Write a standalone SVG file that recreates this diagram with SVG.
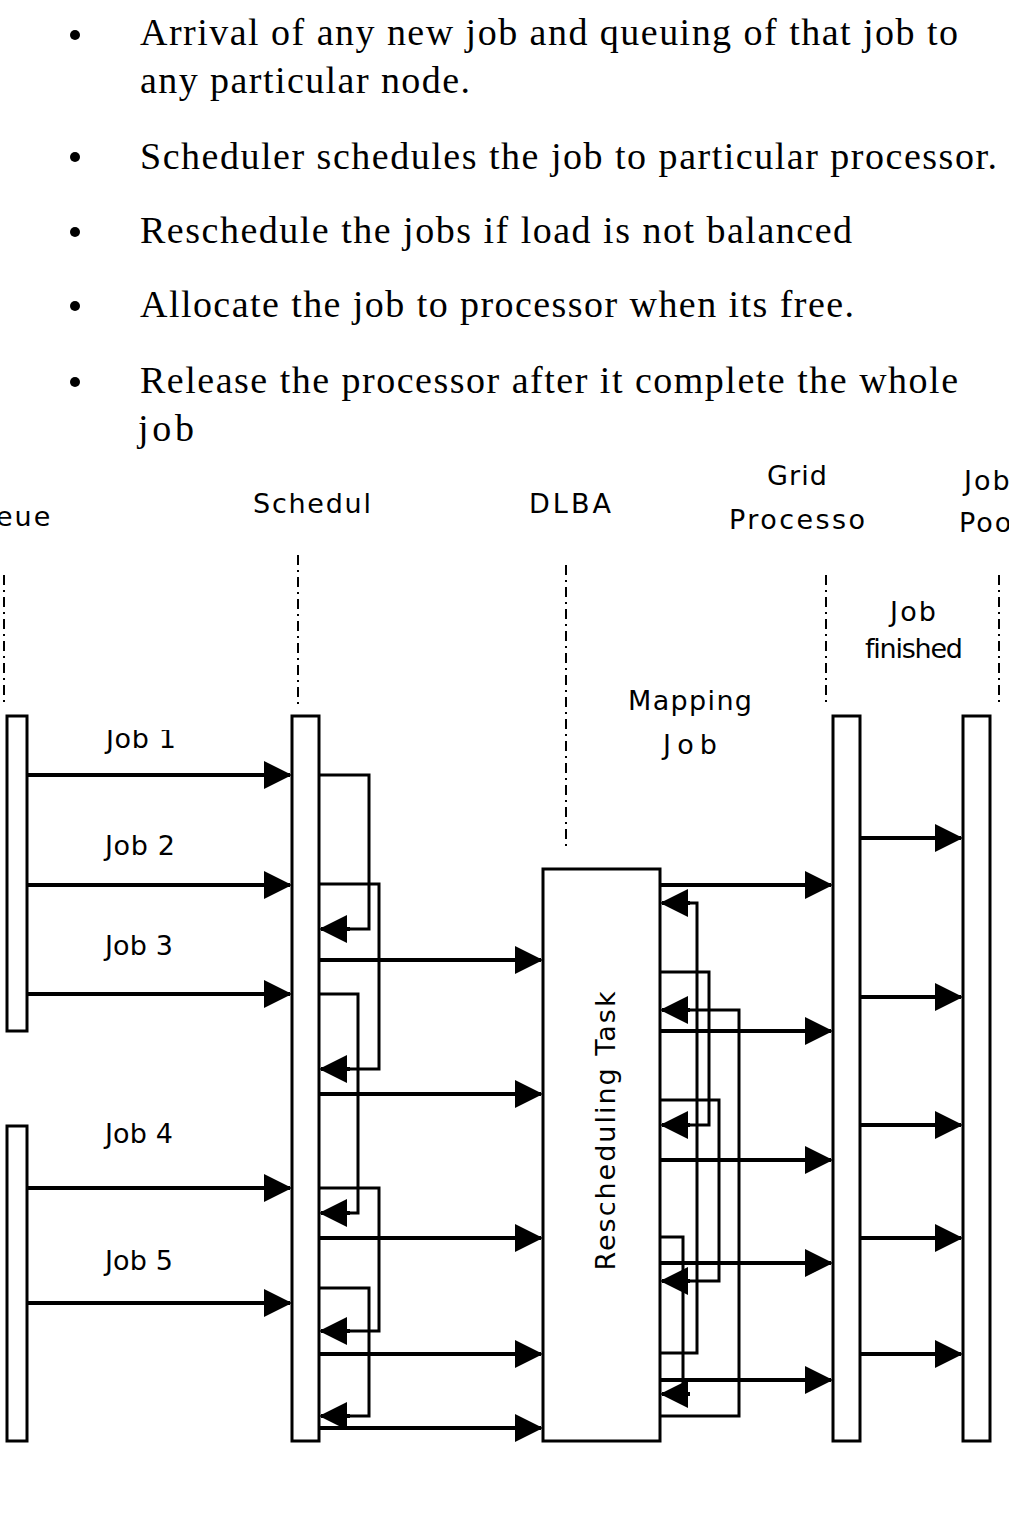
<svg xmlns="http://www.w3.org/2000/svg" width="1009" height="1514" viewBox="0 0 1009 1514">
<style>
.b{font-family:"Liberation Serif",serif;font-size:38px;fill:#000}
.s{font-family:"DejaVu Sans",sans-serif;font-size:27px;fill:#000;letter-spacing:2px}
.r{fill:#fff;stroke:#000;stroke-width:3}
.l{fill:none;stroke:#000;stroke-width:3}
.a{fill:none;stroke:#000;stroke-width:4;marker-end:url(#ar)}
.d{fill:none;stroke:#000;stroke-width:2;stroke-dasharray:10 5 2 5}
</style>
<defs>
<marker id="ar" markerWidth="7" markerHeight="7" refX="6.5" refY="3.5" orient="auto" markerUnits="strokeWidth"><path d="M0,0 L7,3.5 L0,7z"/></marker>
<clipPath id="cj"><rect x="0" y="730" width="300" height="40"/></clipPath>
</defs>
<g id="bullets">
<circle cx="75" cy="35" r="5"/><circle cx="75" cy="157" r="5"/><circle cx="75" cy="232" r="5"/><circle cx="75" cy="306" r="5"/><circle cx="75" cy="382" r="5"/>
<text class="b" x="140" y="45" textLength="818">Arrival of any new job and queuing of that job to</text>
<text class="b" x="140" y="93" textLength="330">any particular node.</text>
<text class="b" x="140" y="169" textLength="857">Scheduler schedules the job to particular processor.</text>
<text class="b" x="140" y="243" textLength="712">Reschedule the jobs if load is not balanced</text>
<text class="b" x="140" y="317" textLength="714">Allocate the job to processor when its free.</text>
<text class="b" x="140" y="393" textLength="818">Release the processor after it complete the whole</text>
<text class="b" x="138" y="441" textLength="56">job</text>
</g>
<g id="labels">
<text class="s" x="-4" y="526">eue</text>
<text class="s" x="253" y="513" textLength="120">Schedul</text>
<text class="s" x="529" y="513" textLength="84">DLBA</text>
<text class="s" x="767" y="485" textLength="62">Grid</text>
<text class="s" x="729" y="529" textLength="138">Processo</text>
<text class="s" x="964" y="490">Job</text>
<text class="s" x="959" y="532">Poo</text>
<text class="s" x="890" y="621" font-size="25" textLength="48">Job</text>
<text class="s" x="865" y="658" font-size="25" textLength="100" letter-spacing="0">finished</text>
<text class="s" x="628" y="710" textLength="126">Mapping</text>
<text class="s" x="663" y="754" textLength="56">Job</text>
<text class="s" x="106" y="748" clip-path="url(#cj)" textLength="72">Job 1</text>
<text class="s" x="105" y="855" textLength="72">Job 2</text>
<text class="s" x="105" y="955" textLength="70">Job 3</text>
<text class="s" x="105" y="1143" textLength="70">Job 4</text>
<text class="s" x="105" y="1270" textLength="70">Job 5</text>
</g>
<g id="lifelines">
<line class="d" x1="4" y1="575" x2="4" y2="705"/>
<line class="d" x1="298" y1="555" x2="298" y2="705"/>
<line class="d" x1="566" y1="565" x2="566" y2="850"/>
<line class="d" x1="826" y1="575" x2="826" y2="705"/>
<line class="d" x1="999" y1="575" x2="999" y2="705"/>
</g>
<g id="queue"><rect class="r" x="7" y="716" width="20" height="315"/><rect class="r" x="7" y="1126" width="20" height="315"/></g>
<g id="scheduler"><rect class="r" x="292" y="716" width="27" height="725"/></g>
<g id="dlba"><rect class="r" x="543" y="869" width="117" height="572"/>
<text class="s" transform="translate(615,1130) rotate(-90)" text-anchor="middle" letter-spacing="0" font-size="28">Rescheduling Task</text></g>
<g id="grid"><rect class="r" x="833" y="716" width="27" height="725"/></g>
<g id="pool"><rect class="r" x="963" y="716" width="27" height="725"/></g>
<g id="connectors">
<line class="a" x1="27" y1="775" x2="290" y2="775"/>
<line class="a" x1="27" y1="885" x2="290" y2="885"/>
<line class="a" x1="27" y1="994" x2="290" y2="994"/>
<line class="a" x1="27" y1="1188" x2="290" y2="1188"/>
<line class="a" x1="27" y1="1303" x2="290" y2="1303"/>
<polyline class="l" points="319,775 369,775 369,929 340,929"/><line class="a" x1="350" y1="929" x2="321" y2="929"/>
<polyline class="l" points="319,884 379,884 379,1069 340,1069"/><line class="a" x1="350" y1="1069" x2="321" y2="1069"/>
<polyline class="l" points="319,994 358,994 358,1213 340,1213"/><line class="a" x1="350" y1="1213" x2="321" y2="1213"/>
<polyline class="l" points="319,1188 379,1188 379,1331 340,1331"/><line class="a" x1="350" y1="1331" x2="321" y2="1331"/>
<polyline class="l" points="319,1288 369,1288 369,1416 340,1416"/><line class="a" x1="350" y1="1416" x2="321" y2="1416"/>
<line class="a" x1="319" y1="960" x2="541" y2="960"/>
<line class="a" x1="319" y1="1094" x2="541" y2="1094"/>
<line class="a" x1="319" y1="1238" x2="541" y2="1238"/>
<line class="a" x1="319" y1="1354" x2="541" y2="1354"/>
<line class="a" x1="319" y1="1428" x2="541" y2="1428"/>
<line class="a" x1="660" y1="885" x2="831" y2="885"/>
<line class="a" x1="660" y1="1031" x2="831" y2="1031"/>
<line class="a" x1="660" y1="1160" x2="831" y2="1160"/>
<line class="a" x1="660" y1="1263" x2="831" y2="1263"/>
<line class="a" x1="660" y1="1380" x2="831" y2="1380"/>
<polyline class="l" points="660,1353 697,1353 697,903 680,903"/><line class="a" x1="690" y1="903" x2="662" y2="903"/>
<polyline class="l" points="660,972 709,972 709,1125 680,1125"/><line class="a" x1="690" y1="1125" x2="662" y2="1125"/>
<polyline class="l" points="660,1416 739,1416 739,1010 680,1010"/><line class="a" x1="690" y1="1010" x2="662" y2="1010"/>
<polyline class="l" points="660,1100 719,1100 719,1281 680,1281"/><line class="a" x1="690" y1="1281" x2="662" y2="1281"/>
<polyline class="l" points="660,1237 683,1237 683,1394 680,1394"/><line class="a" x1="690" y1="1394" x2="662" y2="1394"/>
<line class="a" x1="860" y1="838" x2="961" y2="838"/>
<line class="a" x1="860" y1="997" x2="961" y2="997"/>
<line class="a" x1="860" y1="1125" x2="961" y2="1125"/>
<line class="a" x1="860" y1="1238" x2="961" y2="1238"/>
<line class="a" x1="860" y1="1354" x2="961" y2="1354"/>
</g>
</svg>
